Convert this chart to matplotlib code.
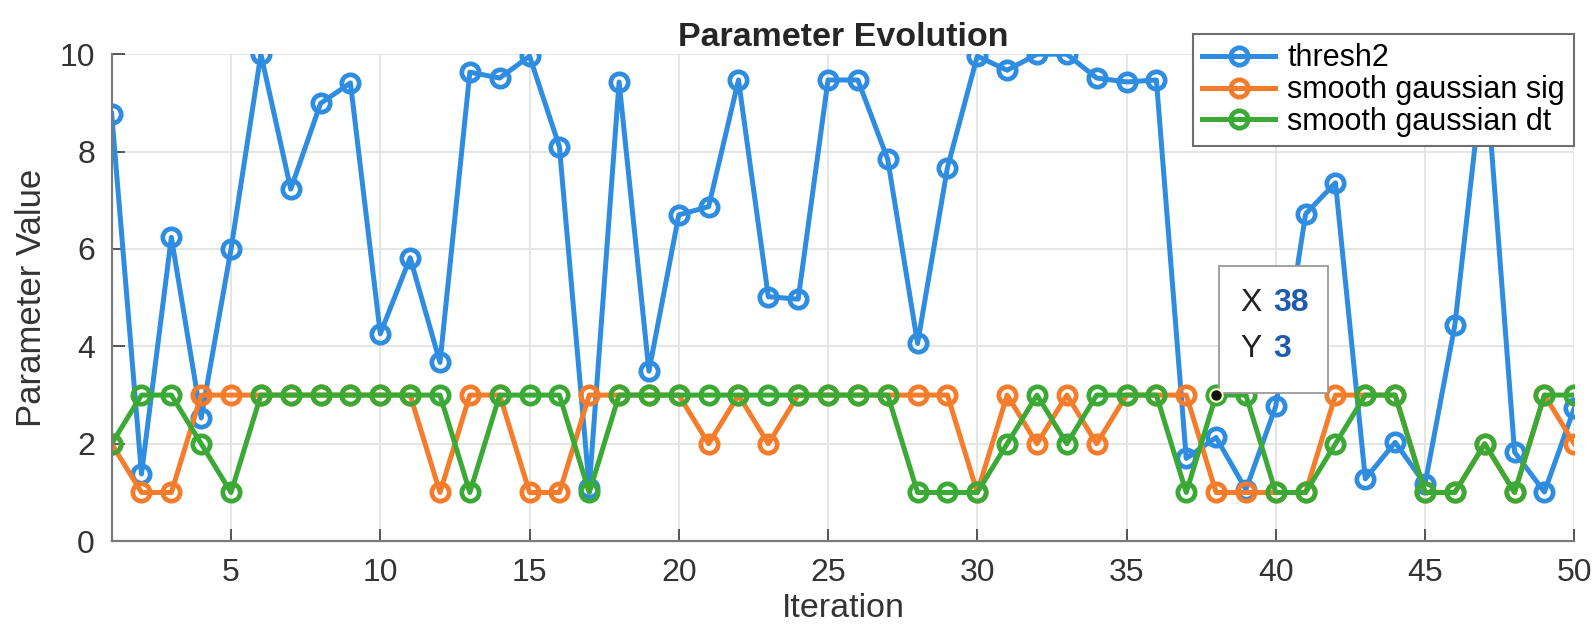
# Parameter evolution over iterations

import matplotlib.pyplot as plt
from matplotlib.patches import Rectangle

plt.rcParams["font.family"] = ["Liberation Sans", "DejaVu Sans"]

iteration = list(range(1, 51))
thresh2 = [8.78, 1.38, 6.24, 2.53, 6.0, 10.0, 7.23, 8.99, 9.41, 4.26,
           5.82, 3.67, 9.63, 9.51, 9.96, 8.10, 1.1, 9.43, 3.49, 6.70,
           6.87, 9.47, 5.02, 4.97, 9.47, 9.47, 7.84, 4.06, 7.67, 9.96,
           9.67, 10.0, 10.0, 9.51, 9.43, 9.47, 1.70, 2.13, 1.06, 2.77,
           6.72, 7.36, 1.28, 2.03, 1.17, 4.44, 9.9, 1.83, 1.01, 2.73]
gauss_sig = [2, 1, 1, 3, 3, 3, 3, 3, 3, 3,
             3, 1, 3, 3, 1, 1, 3, 3, 3, 3,
             2, 3, 2, 3, 3, 3, 3, 3, 3, 1,
             3, 2, 3, 2, 3, 3, 3, 1, 1, 1,
             1, 3, 3, 3, 1, 1, 2, 1, 3, 2]
gauss_dt = [2, 3, 3, 2, 1, 3, 3, 3, 3, 3,
            3, 3, 1, 3, 3, 3, 1, 3, 3, 3,
            3, 3, 3, 3, 3, 3, 3, 1, 1, 1,
            2, 3, 2, 3, 3, 3, 1, 3, 3, 1,
            1, 2, 3, 3, 1, 1, 2, 1, 3, 3]

# data tip shown on the green series
tip_idx = 37
tip_x = iteration[tip_idx]
tip_y = gauss_dt[tip_idx]

fig = plt.figure(figsize=(15.95, 6.30), dpi=100)
ax = fig.add_axes([0.07, 0.141, 0.917, 0.773])

style = dict(marker="o", markersize=12.5, markerfacecolor="none",
             markeredgewidth=3.4, linewidth=3.6)
ax.plot(iteration, thresh2, color="#2E8CE1", label="thresh2", **style)
ax.plot(iteration, gauss_sig, color="#F57C2A", label="smooth gaussian sig", **style)
ax.plot(iteration, gauss_dt, color="#3AA935", label="smooth gaussian dt", **style)

ax.set_xlim(1, 50)
ax.set_ylim(0, 10)
ax.set_xticks(range(5, 51, 5))
ax.set_yticks(range(0, 11, 2))
ax.grid(True, color="#e3e3e3", linewidth=1.3)
ax.set_axisbelow(True)
for side in ["top", "right"]:
    ax.spines[side].set_visible(False)
for side in ["left", "bottom"]:
    ax.spines[side].set_color("#7a7a7a")
    ax.spines[side].set_linewidth(1.6)
ax.tick_params(direction="in", length=9, width=1.4, color="#555555",
               labelsize=23, labelcolor="#333333", pad=12)

ax.set_xlabel("Iteration", fontsize=24.5, color="#333333", labelpad=4)
ax.set_ylabel("Parameter Value", fontsize=25, color="#333333", labelpad=8)
ax.set_title("Parameter Evolution", fontsize=24.5, fontweight="bold",
             color="#262626", pad=6)

leg = ax.legend(loc="upper right", bbox_to_anchor=(1.0, 1.041), fontsize=22,
                frameon=True, fancybox=False, framealpha=1, edgecolor="#6e6e6e",
                handlelength=2.4, handletextpad=0.4, labelspacing=0.06,
                borderpad=0.3, borderaxespad=0)
leg.get_frame().set_linewidth(1.5)
leg.set_zorder(5)

# data tip
ax.add_patch(Rectangle((tip_x + 0.1, tip_y + 0.05), 3.65, 2.6,
                       facecolor="white", edgecolor="#9a9a9a", linewidth=1.3,
                       zorder=6))
ax.text(tip_x + 0.8, tip_y + 1.9, "X", fontsize=23, color="#222222",
        va="center", zorder=7)
ax.text(tip_x + 1.9, tip_y + 1.9, str(tip_x), fontsize=23, color="#1F5BAE",
        fontweight="bold", va="center", zorder=7)
ax.text(tip_x + 0.8, tip_y + 0.95, "Y", fontsize=23, color="#222222",
        va="center", zorder=7)
ax.text(tip_x + 1.9, tip_y + 0.95, str(tip_y), fontsize=23, color="#1F5BAE",
        fontweight="bold", va="center", zorder=7)
ax.plot(tip_x, tip_y, "o", color="#111111", markersize=9,
        markeredgecolor="#fff8c8", markeredgewidth=1.5, zorder=8)

fig.savefig("out.png", dpi=100)
